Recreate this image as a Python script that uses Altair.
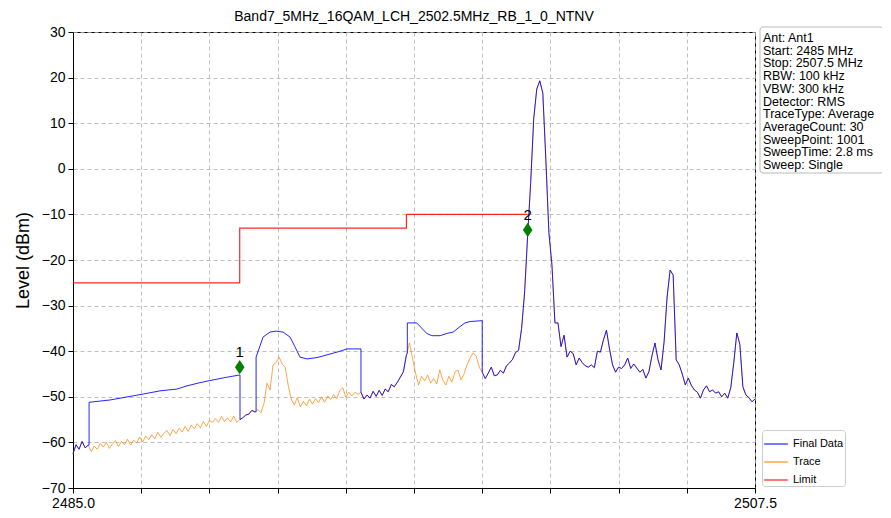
import altair as alt
import pandas as pd

title_text = "Band7_5MHz_16QAM_LCH_2502.5MHz_RB_1_0_NTNV"
font_name = "Liberation Sans"

# sweep grid of the trace (MHz)
f_start = 2485.0
f_step = 0.1

# Trace (dBm), one value per 0.1 MHz from 2485.0 to 2507.5
trace_db = [
    -62.5, -60.5, -61.5, -59.8, -61.2, -60.6, -62.0, -60.8, -61.5, -60.2,
    -61.0, -60.0, -61.3, -60.4, -59.6, -60.9, -59.8, -60.5, -59.3, -60.6,
    -59.5, -60.2, -58.8, -59.9, -58.6, -59.4, -58.3, -59.2, -57.8, -58.9,
    -58.0, -57.4, -58.5, -57.2, -58.1, -56.9, -57.7, -56.5, -57.6, -56.2,
    -57.0, -55.9, -56.8, -55.4, -56.5, -55.2, -55.6, -54.8, -55.6, -54.3,
    -55.4, -54.6, -55.5, -54.2, -55.6, -55.0, -54.6, -54.0, -53.8, -53.0,
    -53.3, -52.8, -53.5, -51.5, -47.0, -48.5, -43.0, -42.5, -41.3, -42.8,
    -43.5, -47.5, -50.5, -51.8, -50.2, -52.2, -51.0, -52.0, -50.5, -51.6,
    -50.4, -51.3, -50.0, -51.2, -49.8, -50.6, -49.5, -50.4, -48.6, -48.0,
    -50.1, -49.0, -49.8, -49.0, -49.5, -49.0, -50.5, -49.6, -50.3, -48.8,
    -49.9, -48.6, -49.7, -48.3, -48.9, -47.3, -47.8, -46.8, -45.7, -44.5,
    -40.8, -38.2, -41.5, -44.8, -47.4, -45.5, -46.5, -45.2, -47.0, -46.0,
    -47.2, -44.1, -46.3, -47.4, -45.5, -46.8, -44.6, -44.1, -46.3, -45.0,
    -43.0, -41.5, -40.4, -41.0, -43.5, -44.6, -46.0, -44.8, -43.5, -45.4,
    -45.2, -44.2, -44.8, -43.2, -42.6, -41.8, -40.3, -39.8, -35.0, -27.0,
    -14.5, -3.0, 11.0, 17.5, 19.3, 16.6, 2.0, -14.0, -21.0, -33.8,
    -33.8, -39.0, -36.5, -41.3, -40.0, -40.5, -43.0, -41.5, -42.5, -43.2,
    -43.5, -43.0, -43.6, -40.0, -40.2, -37.5, -35.4, -39.5, -43.0, -44.6,
    -43.5, -43.8, -43.0, -41.5, -43.8, -42.8, -43.7, -44.6, -44.0, -45.9,
    -44.5, -41.0, -38.2, -41.9, -44.1, -38.0, -28.1, -22.2, -23.3, -41.9,
    -43.0, -45.0, -47.4, -45.9, -47.5, -48.5, -49.0, -50.3, -48.5, -47.6,
    -48.9, -48.5, -49.2, -48.9, -50.0, -49.2, -50.3, -48.0, -42.5, -36.0,
    -38.5, -47.8, -49.6, -50.2, -51.1, -50.5,
]

# Final Data: equal to the trace except in three envelope segments
env_a_freq = [2485.53, 2485.53, 2486.22, 2487.31, 2487.87, 2488.43, 2488.76, 2489.19, 2489.62, 2490.08, 2490.51, 2490.51]
env_a_db = [-60.6, -51.2, -50.7, -49.4, -48.7, -48.3, -47.6, -46.9, -46.3, -45.7, -45.2, -55.0]
env_b_freq = [2491.04, 2491.04, 2491.27, 2491.5, 2491.7, 2491.93, 2492.16, 2492.32, 2492.49, 2492.72, 2493.05, 2493.38, 2493.71, 2494.04, 2494.5, 2494.5]
env_b_db = [-53.3, -41.3, -36.9, -35.8, -35.6, -35.8, -36.9, -39.0, -41.3, -41.7, -41.4, -40.8, -40.2, -39.5, -39.5, -49.0]
env_c_freq = [2496.03, 2496.03, 2496.34, 2496.67, 2496.84, 2497.11, 2497.34, 2497.54, 2497.77, 2497.93, 2498.1, 2498.5, 2498.5]
env_c_db = [-40.5, -33.8, -33.8, -36.1, -36.6, -36.6, -36.1, -35.8, -34.6, -33.8, -33.5, -33.3, -44.6]

# Limit line
limit_freq = [2485.0, 2490.5, 2490.5, 2496.0, 2496.0, 2500.0]
limit_db = [-25, -25, -13, -13, -10, -10]

# Markers
marker_freq = [2490.5, 2500.0]
marker_db = [-43.5, -13.4]
marker_label = ["1", "2"]

# Axes
x_tick_values = [2485.0, 2487.25, 2489.5, 2491.75, 2494.0, 2496.25, 2498.5, 2500.75, 2503.0, 2505.25, 2507.5]
y_tick_values = [30, 20, 10, 0, -10, -20, -30, -40, -50, -60, -70]

series_names = ["Final Data", "Trace", "Limit"]
series_colors = ["#0000ff", "#ff8000", "#ff0000"]

info_lines = [
    "Ant: Ant1",
    "Start: 2485 MHz",
    "Stop: 2507.5 MHz",
    "RBW: 100 kHz",
    "VBW: 300 kHz",
    "Detector: RMS",
    "TraceType: Average",
    "AverageCount: 30",
    "SweepPoint: 1001",
    "SweepTime: 2.8 ms",
    "Sweep: Single",
]

# ---- build tables ----
trace_freq = [round(f_start + i * f_step, 2) for i in range(len(trace_db))]
trace_df = pd.DataFrame({"freq": trace_freq, "db": trace_db, "series": "Trace"})
trace_df["ord"] = range(len(trace_df))

envs = [(env_a_freq, env_a_db), (env_b_freq, env_b_db), (env_c_freq, env_c_db)]
pts = []
for f, d in zip(trace_freq, trace_db):
    inside = any(ef[0] <= f <= ef[-1] for ef, _ in envs)
    if not inside:
        pts.append((f, d))
for ef, ed in envs:
    pts.extend(zip(ef, ed))
pts = sorted(pts, key=lambda p: p[0])
final_df = pd.DataFrame(pts, columns=["freq", "db"])
final_df["series"] = "Final Data"
final_df["ord"] = range(len(final_df))

limit_df = pd.DataFrame({"freq": limit_freq, "db": limit_db, "series": "Limit"})
limit_df["ord"] = range(len(limit_df))

marker_df = pd.DataFrame({"freq": marker_freq, "db": marker_db, "label": marker_label})
info_df = pd.DataFrame({"t": ["\n".join(info_lines)]})

x_enc = alt.X(
    "freq:Q",
    scale=alt.Scale(domain=[2485.0, 2507.5], nice=False, zero=False),
    axis=alt.Axis(
        values=x_tick_values,
        labelExpr="(datum.value == 2485 || datum.value == 2507.5) ? format(datum.value, '.1f') : ''",
        title=None,
        labelFontSize=14,
        labelPadding=3,
        labelFlush=False,
        labelOverlap=False,
    ),
)
y_enc = alt.Y(
    "db:Q",
    scale=alt.Scale(domain=[-70, 30], nice=False, zero=False),
    axis=alt.Axis(
        values=y_tick_values,
        title="Level (dBm)",
        titleFontSize=18,
        titleFontWeight="normal",
        titlePadding=9,
        labelFontSize=14,
        labelPadding=3,
    ),
)
color_enc = alt.Color(
    "series:N",
    scale=alt.Scale(domain=series_names, range=series_colors),
    legend=alt.Legend(
        title=None,
        orient="none",
        legendX=689,
        legendY=398,
        symbolType="stroke",
        symbolSize=560,
        symbolStrokeWidth=1.5,
        labelFontSize=11,
        labelFont=font_name,
        fillColor="white",
        strokeColor="#cccccc",
        cornerRadius=3,
        padding=1,
        rowPadding=0,
    ),
)

trace_layer = alt.Chart(trace_df).mark_line(strokeWidth=1, opacity=0.7).encode(
    x=x_enc, y=y_enc, color=color_enc, order="ord:Q"
)
final_layer = alt.Chart(final_df).mark_line(strokeWidth=1, opacity=0.85).encode(
    x=x_enc, y=y_enc, color=color_enc, order="ord:Q"
)
limit_layer = alt.Chart(limit_df).mark_line(strokeWidth=1.2, opacity=0.85).encode(
    x=x_enc, y=y_enc, color=color_enc, order="ord:Q"
)
marker_layer = alt.Chart(marker_df).mark_point(
    shape="M0,-1L0.68,0L0,1L-0.68,0Z", filled=True, color="#008000", opacity=1, size=200
).encode(x=x_enc, y=y_enc)
marker_text = alt.Chart(marker_df).mark_text(
    dy=-15, fontSize=15, color="black", font=font_name
).encode(x=x_enc, y=y_enc, text="label:N")

info_box = alt.Chart(info_df).mark_rect(
    fill="white", stroke="#bbbbbb", strokeWidth=1, cornerRadius=3
).encode(x=alt.value(687), x2=alt.value(810), y=alt.value(-5), y2=alt.value(141))
info_text = alt.Chart(info_df).mark_text(
    align="left", baseline="alphabetic", lineBreak="\n", fontSize=12.5, lineHeight=12.7,
    font=font_name, color="black"
).encode(x=alt.value(690), y=alt.value(10), text="t:N")

chart = alt.layer(
    trace_layer, final_layer, limit_layer, marker_layer, marker_text, info_box, info_text
).properties(
    width=682,
    height=456,
    title=alt.TitleParams(title_text, fontSize=14, fontWeight="normal", font=font_name,
                          offset=1, color="black", frame="group", anchor="middle"),
    padding={"left": 65, "top": 24, "right": 127, "bottom": 22},
    autosize=alt.AutoSizeParams(type="none"),
).configure_view(
    stroke="black", strokeWidth=1
).configure_axis(
    grid=True,
    gridDash=[4, 3],
    gridColor="#b0b0b0",
    gridWidth=0.8,
    domainColor="black",
    tickColor="black",
    tickSize=5,
    labelColor="black",
    titleColor="black",
    labelFont=font_name,
    titleFont=font_name,
)

chart.save("out.html", embed_options={"renderer": "svg", "actions": False})
